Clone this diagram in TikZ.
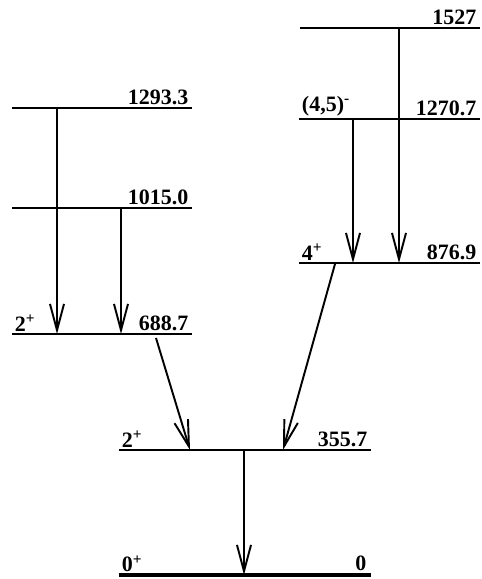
\documentclass[tikz,border=0pt]{standalone}
\usepackage{fontspec}
\setmainfont{Liberation Serif}
\usetikzlibrary{calc,arrows.meta,positioning}

\begin{document}
\begin{tikzpicture}[
        x=0.02cm, y=-0.02cm,
        level/.style={line width=1.2pt},
        ground/.style={line width=2.4pt},
        en/.style={anchor=south east, inner sep=1.5pt, font=\fontsize{12.5}{14}\selectfont\bfseries},
        spin/.style={anchor=south west, inner sep=1.5pt, font=\fontsize{12.5}{14}\selectfont\bfseries},
        gam/.style={line width=1.1pt, -{Straight Barb[length=15pt,width=8pt,line width=1.1pt]}}
    ]
        \useasboundingbox (0,0) rectangle (481,579);

        % left band
        \coordinate (e1293a) at (12,108);  \coordinate (e1293b) at (192,108);
        \coordinate (e1015a) at (12,208);  \coordinate (e1015b) at (192,208);
        \coordinate (e688a) at (12,334);   \coordinate (e688b) at (192,334);
        % right band
        \coordinate (e1527a) at (300,28);  \coordinate (e1527b) at (480,28);
        \coordinate (e1270a) at (299,119); \coordinate (e1270b) at (480,119);
        \coordinate (e876a) at (299,263);  \coordinate (e876b) at (480,263);
        % ground band
        \coordinate (e355a) at (119,450);  \coordinate (e355b) at (371,450);
        \coordinate (e0a) at (119,575);    \coordinate (e0b) at (371,575);

        \draw[level] (e1293a) -- (e1293b) node[en] (t1293) {1293.3};
        \draw[level] (e1015a) -- (e1015b) node[en] (t1015) {1015.0};
        \draw[level] (e688a) -- (e688b) node[en] (t688) {688.7};
        \draw[level] (e1527a) -- (e1527b) node[en] (t1527) {1527};
        \draw[level] (e1270a) -- (e1270b) node[en] (t1270) {1270.7};
        \draw[level] (e876a) -- (e876b) node[en] (t876) {876.9};
        \draw[level] (e355a) -- (e355b) node[en] (t355) {355.7};
        \draw[ground] (e0a) -- (e0b) node[en] (t0) {0};

        \node[spin] (s688) at (e688a) {2\textsuperscript{+}};
        \node[spin] (s1270) at (e1270a) {(4,5)\textsuperscript{-}};
        \node[spin] (s876) at (e876a) {4\textsuperscript{+}};
        \node[spin] (s355) at (e355a) {2\textsuperscript{+}};
        \node[spin] (s0) at (e0a) {0\textsuperscript{+}};

        \draw[gam] ($(e1293a)+(45,0)$) -- ($(e688a)+(45,0)$);
        \draw[gam] ($(e1015a)+(109,0)$) -- ($(e688a)+(109,0)$);
        \draw[gam] ($(e1527a)+(99,0)$) -- ($(e876a)+(100,0)$);
        \draw[gam] ($(e1270a)+(54,0)$) -- ($(e876a)+(54,0)$);
        \draw[gam] ($(e688a)+(144,4)$) -- ($(e355a)+(71,0)$);
        \draw[gam] ($(e876a)+(36,1)$) -- ($(e355a)+(164,0)$);
        \draw[gam] ($(e355a)+(125,0)$) -- ($(e0a)+(125,0)$);
    \end{tikzpicture}
\end{document}
